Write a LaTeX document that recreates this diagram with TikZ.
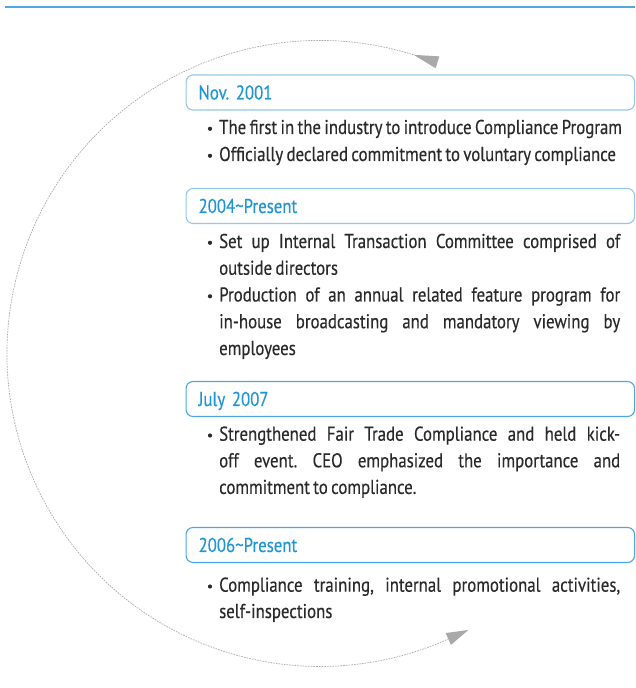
\documentclass[tikz,border=0pt]{standalone}
\usepackage{fontspec}
\setmainfont{PT Sans}[FakeStretch=0.84, FakeBold=0.3, WordSpace=0.75]
\usetikzlibrary{calc}
\definecolor{topline}{HTML}{4FA8DF}
\definecolor{boxlight}{HTML}{93C8EE}
\definecolor{boxdark}{HTML}{4AA6E4}
\definecolor{titleblue}{HTML}{1E96D6}
\definecolor{bodygray}{HTML}{2A2A2A}
\definecolor{arcgray}{HTML}{A9A9A9}
\newcommand{\justline}[1]{\makebox[401pt][s]{#1}}
\newcommand{\txtfont}{\fontsize{20}{26.7}\selectfont}
\frenchspacing
\begin{document}
\begin{tikzpicture}[x=1pt,y=1pt,
  datebox/.style={draw, rounded corners=7pt, line width=1.1pt, anchor=west,
    minimum width=448.5pt, minimum height=35pt, text width=423.5pt,
    inner xsep=12.5pt, align=left, text height=14pt, text depth=0pt,
    text=titleblue, font=\txtfont},
  bodyline/.style={anchor=base west, inner sep=0pt, text=bodygray, font=\txtfont},
  bulletdot/.style={fill=bodygray},
  cyclearc/.style={arcgray, line width=0.7pt, dash pattern=on 1.6pt off 1.1pt},
  arrowfill/.style={fill=arcgray}]
\useasboundingbox (0,0) rectangle (635,688);
\fill[white] (0,0) rectangle (635,688);
% top rule
\coordinate (L0) at (5,681);
\coordinate (L1) at (635,681);
\draw[topline, line width=1.5pt] (L0) -- (L1);
% cycle arc
\coordinate (C) at (320,334.5);
\coordinate (As) at ($(C)+(72.6:313pt)$);
\coordinate (Ae) at ($(C)+(294.2:313pt)$);
\draw[cyclearc] (As) arc[start angle=72.6, end angle=294.2, radius=313pt];
\fill[arrowfill] (As) -- ($(As)+(-17.4:25pt)+(72.6:6.2pt)$) -- ($(As)+(-17.4:25pt)+(252.6:6.2pt)$) -- cycle;
\fill[arrowfill] ($(Ae)+(24.2:22pt)$) -- ($(Ae)+(114.2:6.5pt)$) -- ($(Ae)+(294.2:6.5pt)$) -- cycle;
% date boxes
\node[datebox, draw=boxlight] (b1) at (185.5,595.5) {Nov. 2001};
\node[datebox, draw=boxlight] (b2) at (185.5,482) {2004\textasciitilde Present};
\node[datebox, draw=boxdark] (b3) at (185.5,289) {July 2007};
\node[datebox, draw=boxdark] (b4) at (185.5,143) {2006\textasciitilde Present};
% body lines
\node[bodyline] (n11) at (219,554) {The first in the industry to introduce Compliance Program};
\node[bodyline] (n12) at (219,527) {Officially declared commitment to voluntary compliance};
\node[bodyline] (n21) at (219,440) {\justline{Set up Internal Transaction Committee comprised of}};
\node[bodyline] (n22) at (219,413.25) {outside directors};
\node[bodyline] (n23) at (219,386.5) {\justline{Production of an annual related feature program for}};
\node[bodyline] (n24) at (219,359.75) {\justline{in-house broadcasting and mandatory viewing by}};
\node[bodyline] (n25) at (219,333) {employees};
\node[bodyline] (n31) at (219,247.3) {\justline{Strengthened Fair Trade Compliance and held kick-}};
\node[bodyline] (n32) at (219,220.7) {\justline{off event. CEO emphasized the importance and}};
\node[bodyline] (n33) at (219,194.1) {commitment to compliance.};
\node[bodyline] (n41) at (219,96.3) {\justline{Compliance training, internal promotional activities,}};
\node[bodyline] (n42) at (219,70) {self-inspections};
% bullets
\foreach \n in {n11,n12,n21,n23,n31,n41}
  \fill[bulletdot] ($(\n.base west)+(-9,5.2)$) circle (2.1pt);
\end{tikzpicture}
\end{document}
